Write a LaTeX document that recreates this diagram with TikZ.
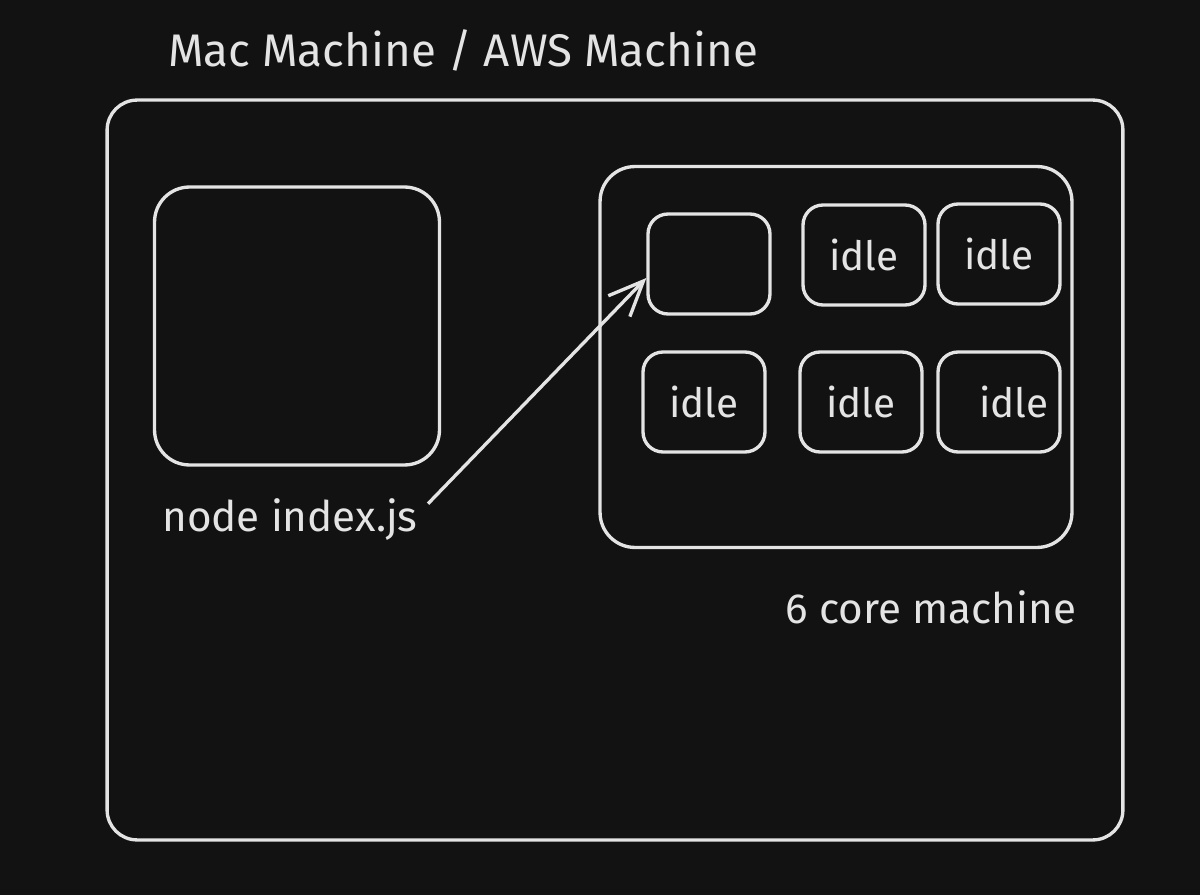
\documentclass[tikz,border=0pt]{standalone}
\usepackage{fontspec}
\setmainfont{Fira Sans}
\usetikzlibrary{positioning,arrows.meta}
\definecolor{bgdark}{HTML}{121212}
\definecolor{chalk}{HTML}{E4E4E4}

\begin{document}
\begin{tikzpicture}[x=0.02cm, y=-0.02cm,
    every node/.style={text=chalk},
    box/.style={draw=chalk, line width=1.9pt, inner sep=0pt},
    core/.style={box, minimum width=2.44cm, minimum height=2cm, rounded corners=0.4cm, font=\fontsize{23}{27}\selectfont},
    lbl/.style={font=\fontsize{24}{28}\selectfont, inner sep=0pt}]
    \fill[bgdark] (0,0) rectangle (1200,895);

    \node[lbl, font=\fontsize{26}{30}\selectfont] (title) at (463,50) {Mac Machine / AWS Machine};
    \node[box, minimum width=20.32cm, minimum height=14.8cm, rounded corners=0.6cm] (mach) at (615,470) {};
    \node[box, minimum width=5.7cm, minimum height=5.56cm, rounded corners=0.7cm] (proc) at (297,326) {};
    \node[lbl] (idx) at (290,520) {node index.js};
    \node[box, minimum width=9.44cm, minimum height=7.62cm, rounded corners=0.7cm] (cpu) at (836,357) {};
    \node[lbl] (cpulbl) at (931,607) {6 core machine};

    % cores
    \node[core] (c1) at (709,264) {};
    \node[core] (c2) at (864,255) {idle};
    \node[core] (c3) at (999,254) {idle};
    \node[core] (c4) at (704,402) {idle};
    \node[core] (c5) at (861,402) {idle};
    \node[core] (c6) at (999,402) {\hspace{0.6cm}idle};

    \draw[draw=chalk, line width=1.9pt, -{Straight Barb[length=0.7cm, width=0.6cm]}] ([xshift=0.2cm, yshift=-0.1cm]idx.north east) -- ([yshift=-0.28cm]c1.west);
\end{tikzpicture}
\end{document}
